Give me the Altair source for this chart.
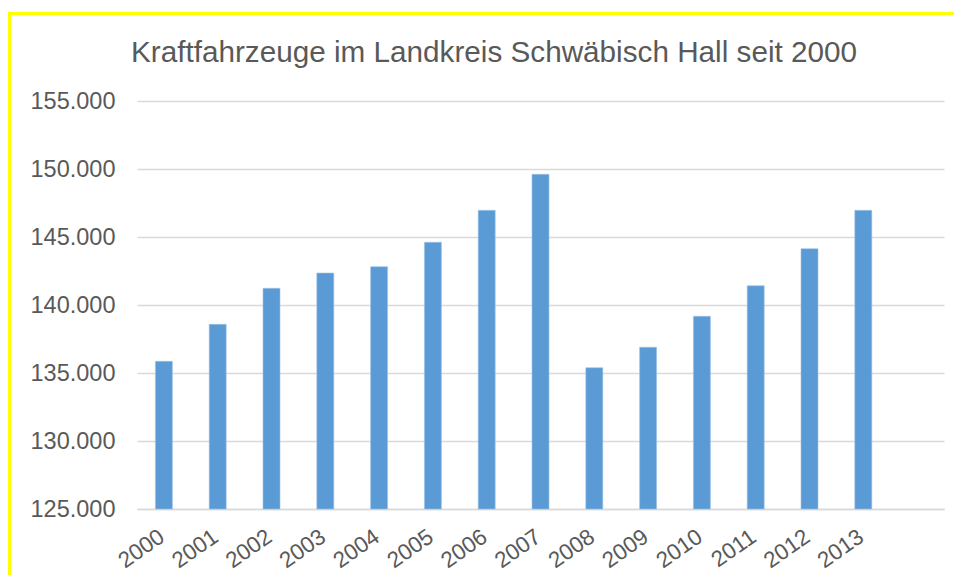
import altair as alt
import pandas as pd

years = ["2000", "2001", "2002", "2003", "2004", "2005", "2006",
         "2007", "2008", "2009", "2010", "2011", "2012", "2013"]
vehicles = [135860, 138580, 141230, 142350, 142820, 144610, 146960,
            149610, 135390, 136890, 139170, 141420, 144140, 146960]
y_ticks = [125000, 130000, 135000, 140000, 145000, 150000, 155000]
title_text = "Kraftfahrzeuge im Landkreis Schwäbisch Hall seit 2000"

domain = years + [" "]
df = pd.DataFrame({"Jahr": years, "Kfz": vehicles})

FONT = "Liberation Sans"
GREY = "#595959"
GRID = "#d9d9d9"

bars = alt.Chart(df).mark_bar(size=17, color="#5B9BD5", stroke="#9DC3E6", strokeWidth=0.6).encode(
    x=alt.X("Jahr:N", scale=alt.Scale(domain=domain, paddingInner=0, paddingOuter=0),
            sort=domain,
            axis=alt.Axis(title=None, labelAngle=-35, labelAlign="right", labelBaseline="middle",
                          labelPadding=25, labelOffset=-2, ticks=False, domainColor=GRID, domainWidth=1.5,
                          labelFont=FONT, labelFontSize=22.5, labelColor=GREY, grid=False)),
    y=alt.Y("Kfz:Q", scale=alt.Scale(domain=[y_ticks[0], y_ticks[-1]], zero=False, nice=False),
            axis=alt.Axis(title=None, values=y_ticks, ticks=False, domain=False,
                          gridColor=GRID, gridWidth=1.5, labelPadding=22,
                          labelFont=FONT, labelFontSize=23.5, labelColor=GREY,
                          labelExpr="replace(format(datum.value, ','), ',', '.')")),
    y2=alt.datum(y_ticks[0]),
)

frame_df = pd.DataFrame({"k": [0]})
top_line = alt.Chart(frame_df).mark_rule(color="#FFFF00", strokeWidth=3).encode(
    x=alt.value(-129), x2=alt.value(900), y=alt.value(-87.5))
left_line = alt.Chart(frame_df).mark_rule(color="#FFFF00", strokeWidth=3).encode(
    x=alt.value(-127.5), y=alt.value(-89), y2=alt.value(500))

title_df = pd.DataFrame({"t": [title_text]})
title_mark = alt.Chart(title_df).mark_text(
    font=FONT, fontSize=29.7, color=GREY, align="center", baseline="alphabetic"
).encode(text="t:N", x=alt.value(357), y=alt.value(-39))

chart = alt.layer(bars, top_line, left_line, title_mark).properties(
    width=807, height=408,
    autosize=alt.AutoSizeParams(type="none"),
    padding={"left": 129, "top": 93, "right": 10, "bottom": 66},
).configure_view(stroke=None)

chart.save("out.html", embed_options={"renderer": "svg", "actions": False})
